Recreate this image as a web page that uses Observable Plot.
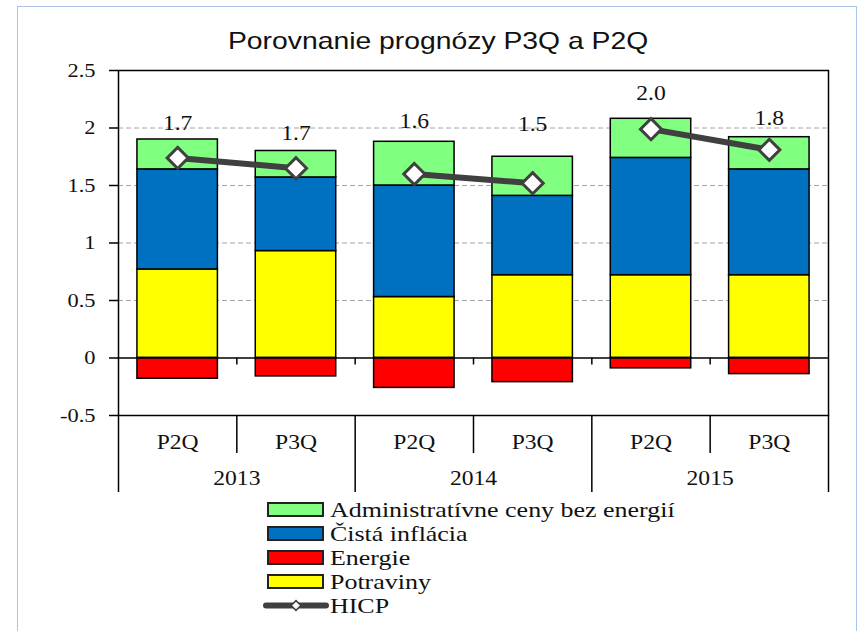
<!DOCTYPE html>
<html><head><meta charset="utf-8">
<script src="https://cdn.jsdelivr.net/npm/d3@7"></script>
<script src="https://cdn.jsdelivr.net/npm/@observablehq/plot@0.6"></script>
<style>
html,body{margin:0;padding:0;background:#fff;width:862px;height:631px;overflow:hidden;position:relative;}
#frame{position:absolute;left:17px;top:6px;width:840px;height:650px;border:1.5px solid #a9c6ea;box-sizing:border-box;}
#title{position:absolute;left:0;width:876px;top:26px;text-align:center;font:24px "Liberation Sans",Arial,sans-serif;color:#111;line-height:30px;}
#title span{display:inline-block;transform:scaleX(1.18);}
#chart{position:absolute;left:0;top:0;}
#legend{position:absolute;left:0;top:0;}
</style>
</head><body>
<div id="frame"></div>
<div id="title"><span>Porovnanie prognózy P3Q a P2Q</span></div>
<div id="chart"></div>
<svg id="legend" width="862" height="631"></svg>
<script>
// ---- data ----
const categories = ["2013 P2Q", "2013 P3Q", "2014 P2Q", "2014 P3Q", "2015 P2Q", "2015 P3Q"];
const quarterLabels = ["P2Q", "P3Q", "P2Q", "P3Q", "P2Q", "P3Q"];
const years = ["2013", "2013", "2014", "2014", "2015", "2015"];
const yearLabels = ["2013", "2014", "2015"];
const potraviny = [0.77, 0.93, 0.53, 0.72, 0.72, 0.72];
const cistaInflacia = [0.87, 0.64, 0.97, 0.69, 1.02, 0.92];
const energie = [-0.18, -0.16, -0.26, -0.21, -0.09, -0.14];
const administrativne = [0.26, 0.23, 0.38, 0.34, 0.34, 0.28];
const hicp = [1.74, 1.65, 1.60, 1.52, 1.99, 1.81];
const hicpLabels = ["1.7", "1.7", "1.6", "1.5", "2.0", "1.8"];
const yTicks = [-0.5, 0, 0.5, 1, 1.5, 2, 2.5];
const yTickLabels = ["-0.5", "0", "0.5", "1", "1.5", "2", "2.5"];
const seriesNames = ["Administratívne ceny bez energií", "Čistá inflácia", "Energie", "Potraviny"];
const seriesColors = ["#80ff80", "#0070c0", "#ff0000", "#ffff00"];
const lineName = "HICP";

// ---- layout constants ----
// how far (in axis units) each HICP label sits above its marker, as placed in the reference
const labelLift = [0.30, 0.30, 0.46, 0.51, 0.31, 0.27];
const half = 0.34;          // half bar width, in category units
const ink = "#111";
const stretch = 1.18;       // reference text is rendered horizontally wide

// ---- tidy tables ----
const stackOrder = [["Potraviny", potraviny], ["Čistá inflácia", cistaInflacia], ["Energie", energie], ["Administratívne ceny bez energií", administrativne]];
const rows = [];
categories.forEach((c, i) => stackOrder.forEach(([s, arr]) => rows.push({i, category: c, series: s, value: arr[i]})));
const hicpRows = categories.map((c, i) => ({i, category: c, year: years[i], value: hicp[i], label: hicpLabels[i]}));
const idx = categories.map((c, i) => i);
const innerBounds = [0.5, 2.5, 4.5];
const yearBounds = [-0.5, 1.5, 3.5, 5.5];
const allBounds = [0.5, 1.5, 2.5, 3.5, 4.5];

const chart = Plot.plot({
  width: 862, height: 500,
  marginLeft: 118, marginRight: 34, marginTop: 70, marginBottom: 85,
  x: {type: "linear", domain: [-0.5, 5.5], label: null},
  y: {domain: [-0.5, 2.5], label: null},
  color: {domain: seriesNames, range: seriesColors},
  style: {fontFamily: '"Liberation Serif", "Times New Roman", serif', fontSize: "20px", color: ink, background: "transparent", overflow: "visible"},
  marks: [
    Plot.ruleY([0.5, 1, 1.5, 2], {stroke: "#a6a6a6", strokeWidth: 1, strokeDasharray: "5,3"}),
    Plot.rectY(rows, Plot.stackY({x: "i", y: "value", x1: d => d.i - half, x2: d => d.i + half, fill: "series", stroke: "#000", strokeWidth: 1.5})),
    Plot.ruleY([0], {stroke: "#000", strokeWidth: 1.5}),
    Plot.ruleX(allBounds, {x: d => d, y1: 0, y2: 0, insetBottom: -7, stroke: "#000", strokeWidth: 1.5}),
    Plot.frame({stroke: "#000", strokeWidth: 1.5}),
    Plot.axisY(yTicks, {tickSize: 9, tickPadding: 14, label: null, tickFormat: d => yTickLabels[yTicks.indexOf(d)], stroke: "#000", strokeWidth: 1.5, fontSize: 19, fill: ink}),
    Plot.axisX(innerBounds, {tickSize: 38, label: null, tickFormat: () => "", stroke: "#000", strokeWidth: 1.5}),
    Plot.axisX(yearBounds, {tickSize: 77, label: null, tickFormat: () => "", stroke: "#000", strokeWidth: 1.5}),
    Plot.axisX(idx, {tickSize: 0, tickPadding: 19, label: null, tickFormat: d => quarterLabels[d], fontSize: 20, fill: ink}),
    Plot.axisX(innerBounds, {tickSize: 0, tickPadding: 55, label: null, tickFormat: d => yearLabels[innerBounds.indexOf(d)], fontSize: 20, fill: ink}),
    Plot.line(hicpRows, {x: "i", y: "value", z: "year", stroke: "#404040", strokeWidth: 6}),
    Plot.dot(hicpRows, {x: "i", y: "value", symbol: "diamond2", r: 9.5, fill: "#fff", stroke: "#404040", strokeWidth: 3}),
    Plot.text(hicpRows, {x: "i", y: d => d.value + labelLift[d.i], text: "label", fontSize: 20, fill: ink})
  ]
});
document.getElementById("chart").appendChild(chart);

// widen glyphs horizontally about each text's anchor
chart.querySelectorAll("text").forEach(t => {
  const tr = t.getAttribute("transform");
  if (tr) {
    t.setAttribute("transform", tr + ` scale(${stretch},1)`);
  } else {
    const x = +(t.getAttribute("x") || 0);
    t.setAttribute("transform", `translate(${x},0) scale(${stretch},1) translate(${-x},0)`);
  }
});

// ---- legend ----
const lg = d3.select("#legend");
const legendItems = seriesNames.map((s, k) => ({name: s, color: seriesColors[k], type: "rect"})).concat([{name: lineName, type: "line"}]);
legendItems.forEach((d, k) => {
  const cy = 509.5 + k * 24;
  if (d.type === "rect") {
    lg.append("rect").attr("x", 268).attr("y", cy - 6.5).attr("width", 55).attr("height", 13)
      .attr("fill", d.color).attr("stroke", "#222").attr("stroke-width", 2);
  } else {
    lg.append("line").attr("x1", 266).attr("x2", 326).attr("y1", cy).attr("y2", cy)
      .attr("stroke", "#404040").attr("stroke-width", 6).attr("stroke-linecap", "round");
    lg.append("path").attr("d", d3.symbol(d3.symbolDiamond2, 60)()).attr("transform", `translate(296,${cy})`)
      .attr("fill", "#fff").attr("stroke", "#404040").attr("stroke-width", 1.5);
  }
  lg.append("text").attr("x", 330).attr("y", cy + 7.5).text(d.name)
    .attr("transform", `translate(330,0) scale(${stretch},1) translate(-330,0)`)
    .attr("font-family", '"Liberation Serif", "Times New Roman", serif').attr("font-size", 22).attr("fill", ink);
});
</script>
</body></html>
